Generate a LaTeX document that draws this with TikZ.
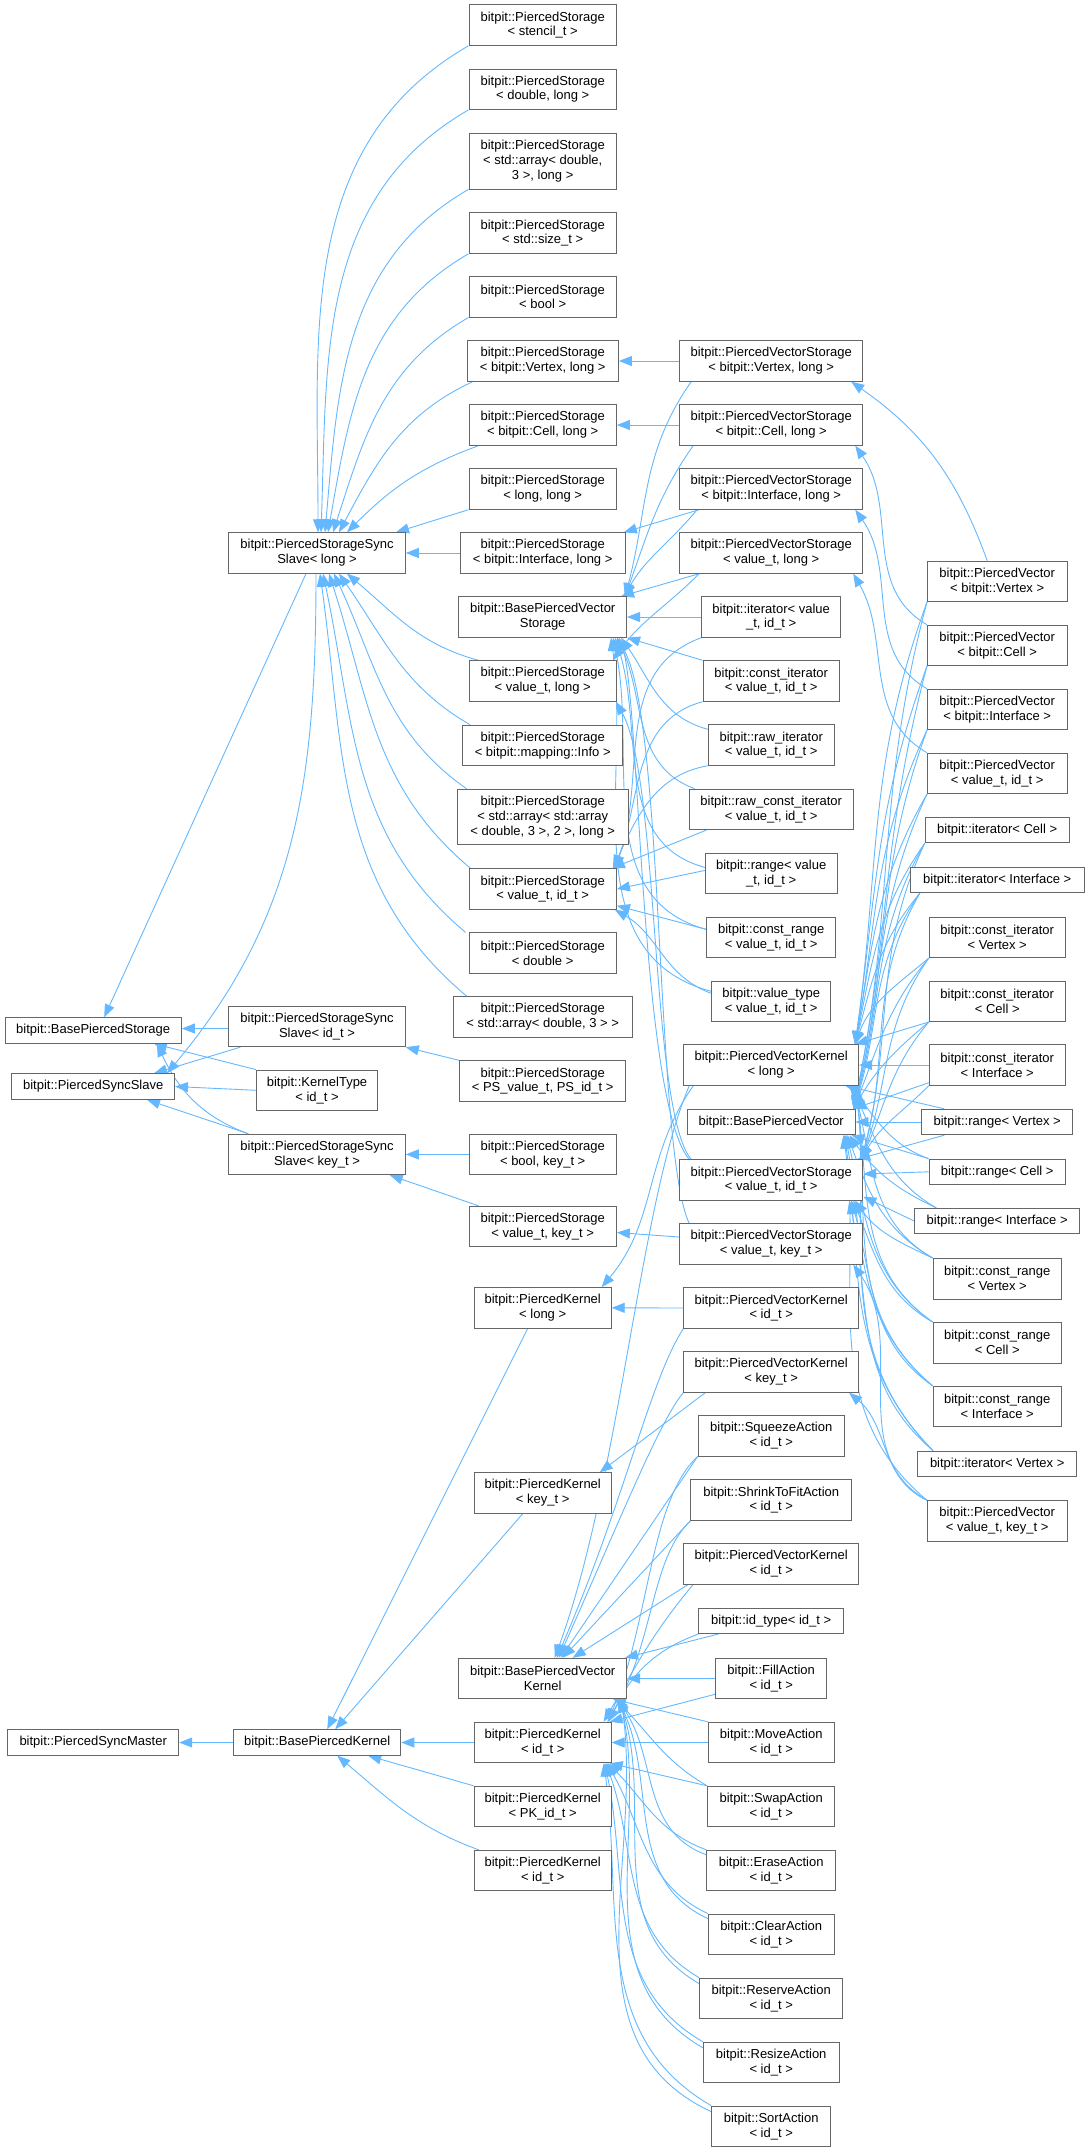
\documentclass[tikz,border=0pt]{standalone}
\usepackage{fontspec}
\setmainfont{Liberation Sans}
\usetikzlibrary{arrows.meta,backgrounds}
\definecolor{edgeblue}{HTML}{63B8FF}
\definecolor{boxgray}{HTML}{666666}
\begin{document}
\begin{tikzpicture}[x=1pt,y=1pt,
    cls/.style={draw=boxgray, fill=white, line width=0.9pt, inner sep=0pt,
      align=center, minimum height=40.5, font=\fontsize{13}{14.8}\selectfont},
    one/.style={cls, minimum height=25.5},
    three/.style={cls, minimum height=55.5},
    w/.style={minimum width=#1},
    inh/.style={color=edgeblue, line width=0.9pt, {Triangle[length=13pt,width=10pt]}-}]
  \useasboundingbox (0,0) rectangle (1089,-2152);
  \draw
    (93.2,-1030.5) node[one,w=176.5] (bps){bitpit::BasePiercedStorage}
    (93.2,-1086.5) node[one,w=162.7] (psl){bitpit::PiercedSyncSlave}
    (93.2,-1742.5) node[one,w=171.1] (psm){bitpit::PiercedSyncMaster}
    (317,-553) node[cls,w=176.6] (ssl){bitpit::PiercedStorageSync\\Slave< long >}
    (317,-1026.5) node[cls,w=176.6] (ssi){bitpit::PiercedStorageSync\\Slave< id\_t >}
    (317,-1090.3) node[cls,w=121.3] (kt){bitpit::KernelType\\< id\_t >}
    (317,-1154.4) node[cls,w=176.6] (ssk){bitpit::PiercedStorageSync\\Slave< key\_t >}
    (317.2,-1742.5) node[one,w=167.2] (bpk){bitpit::BasePiercedKernel}
    (542.7,-25.1) node[cls,w=147.5] (ps1){bitpit::PiercedStorage\\< stencil\_t >}
    (542.7,-89.2) node[cls,w=147.5] (ps2){bitpit::PiercedStorage\\< double, long >}
    (542.7,-161.2) node[three,w=147.5] (ps3){bitpit::PiercedStorage\\< std::array< double,\\3 >, long >}
    (542.7,-233.1) node[cls,w=147.5] (ps4){bitpit::PiercedStorage\\< std::size\_t >}
    (542.7,-296.8) node[cls,w=147.5] (ps5){bitpit::PiercedStorage\\< bool >}
    (542.7,-361) node[cls,w=151.4] (psv){bitpit::PiercedStorage\\< bitpit::Vertex, long >}
    (542.7,-425) node[cls,w=147.5] (psc){bitpit::PiercedStorage\\< bitpit::Cell, long >}
    (542.7,-489) node[cls,w=147.5] (psll){bitpit::PiercedStorage\\< long, long >}
    (542.7,-553) node[cls,w=165.3] (psi){bitpit::PiercedStorage\\< bitpit::Interface, long >}
    (542.7,-617) node[cls,w=167.7] (bpvs){bitpit::BasePiercedVector\\Storage}
    (542.7,-681) node[cls,w=147.5] (psvl){bitpit::PiercedStorage\\< value\_t, long >}
    (542.7,-745.4) node[cls,w=160.4] (psmi){bitpit::PiercedStorage\\< bitpit::mapping::Info >}
    (542.7,-817) node[three,w=171.2] (psaa){bitpit::PiercedStorage\\< std::array< std::array\\< double, 3 >, 2 >, long >}
    (542.7,-889) node[cls,w=147.5] (psvi){bitpit::PiercedStorage\\< value\_t, id\_t >}
    (542.7,-953) node[cls,w=147.5] (psd){bitpit::PiercedStorage\\< double >}
    (542.7,-1017) node[cls,w=178.8] (psa3){bitpit::PiercedStorage\\< std::array< double, 3 > >}
    (542.7,-1081) node[cls,w=166.3] (pspp){bitpit::PiercedStorage\\< PS\_value\_t, PS\_id\_t >}
    (542.7,-1154.4) node[cls,w=147.5] (psbk){bitpit::PiercedStorage\\< bool, key\_t >}
    (542.7,-1226.5) node[cls,w=147.5] (psvk){bitpit::PiercedStorage\\< value\_t, key\_t >}
    (542.7,-1307.8) node[cls,w=137.1] (pkl){bitpit::PiercedKernel\\< long >}
    (542.7,-1493) node[cls,w=137.1] (pkk){bitpit::PiercedKernel\\< key\_t >}
    (542.7,-1678.5) node[cls,w=167.7] (bpvk){bitpit::BasePiercedVector\\Kernel}
    (542.7,-1742.5) node[cls,w=137.1] (pki){bitpit::PiercedKernel\\< id\_t >}
    (542.7,-1806.5) node[cls,w=137.1] (pkp){bitpit::PiercedKernel\\< PK\_id\_t >}
    (542.7,-1870.5) node[cls,w=137.1] (pki2){bitpit::PiercedKernel\\< id\_t >}
    (771.2,-361) node[cls,w=183.2] (pvsv){bitpit::PiercedVectorStorage\\< bitpit::Vertex, long >}
    (771.2,-425) node[cls,w=183.2] (pvsc){bitpit::PiercedVectorStorage\\< bitpit::Cell, long >}
    (771.2,-489) node[cls,w=183.2] (pvsi){bitpit::PiercedVectorStorage\\< bitpit::Interface, long >}
    (771.2,-553) node[cls,w=183.2] (pvsvl){bitpit::PiercedVectorStorage\\< value\_t, long >}
    (771.2,-617) node[cls,w=138.8] (it){bitpit::iterator< value\\\_t, id\_t >}
    (771.2,-681) node[cls,w=136.2] (cit){bitpit::const\_iterator\\< value\_t, id\_t >}
    (771.2,-745) node[cls,w=125.8] (rit){bitpit::raw\_iterator\\< value\_t, id\_t >}
    (771.2,-809.3) node[cls,w=164.4] (rcit){bitpit::raw\_const\_iterator\\< value\_t, id\_t >}
    (771.2,-873.4) node[cls,w=131.7] (rg){bitpit::range< value\\\_t, id\_t >}
    (771.2,-937.4) node[cls,w=128.7] (crg){bitpit::const\_range\\< value\_t, id\_t >}
    (771.2,-1001.3) node[cls,w=119.2] (vt){bitpit::value\_type\\< value\_t, id\_t >}
    (771.2,-1065) node[cls,w=174.9] (pvkl){bitpit::PiercedVectorKernel\\< long >}
    (771.2,-1122) node[one,w=167.6] (bpv){bitpit::BasePiercedVector}
    (771.2,-1180) node[cls,w=183.2] (pvsvi){bitpit::PiercedVectorStorage\\< value\_t, id\_t >}
    (771.2,-1244) node[cls,w=183.2] (pvsvk){bitpit::PiercedVectorStorage\\< value\_t, key\_t >}
    (771.2,-1308) node[cls,w=174.9] (pvki){bitpit::PiercedVectorKernel\\< id\_t >}
    (771.2,-1372) node[cls,w=174.9] (pvkk){bitpit::PiercedVectorKernel\\< key\_t >}
    (771.2,-1435.7) node[cls,w=146] (sq){bitpit::SqueezeAction\\< id\_t >}
    (771.2,-1500) node[cls,w=160.7] (sh){bitpit::ShrinkToFitAction\\< id\_t >}
    (771.2,-1563.7) node[cls,w=174.9] (pvki2){bitpit::PiercedVectorKernel\\< id\_t >}
    (771.2,-1620.8) node[one,w=144.7] (idt){bitpit::id\_type< id\_t >}
    (771.2,-1678.5) node[cls,w=111] (fill){bitpit::FillAction\\< id\_t >}
    (771.2,-1742.5) node[cls,w=125.8] (move){bitpit::MoveAction\\< id\_t >}
    (771.2,-1806.5) node[cls,w=127.2] (swap){bitpit::SwapAction\\< id\_t >}
    (771.2,-1870.5) node[cls,w=128.7] (erase){bitpit::EraseAction\\< id\_t >}
    (771.2,-1934.3) node[cls,w=125.8] (clear){bitpit::ClearAction\\< id\_t >}
    (771.2,-1998.3) node[cls,w=143.2] (reserve){bitpit::ReserveAction\\< id\_t >}
    (771.2,-2062.5) node[cls,w=135.6] (resize){bitpit::ResizeAction\\< id\_t >}
    (771.2,-2126.3) node[cls,w=119.2] (sort){bitpit::SortAction\\< id\_t >}
    (997.2,-581.3) node[cls,w=139.5] (pvv){bitpit::PiercedVector\\< bitpit::Vertex >}
    (997.2,-645.4) node[cls,w=139.5] (pvc){bitpit::PiercedVector\\< bitpit::Cell >}
    (997.2,-709.4) node[cls,w=139.5] (pvi){bitpit::PiercedVector\\< bitpit::Interface >}
    (997.2,-773.4) node[cls,w=139.5] (pvvi){bitpit::PiercedVector\\< value\_t, id\_t >}
    (997.2,-830) node[one,w=144] (itc){bitpit::iterator< Cell >}
    (997.2,-880) node[one,w=173.8] (iti){bitpit::iterator< Interface >}
    (997.2,-937.4) node[cls,w=136] (citv){bitpit::const\_iterator\\< Vertex >}
    (997.2,-1001.3) node[cls,w=136] (citc){bitpit::const\_iterator\\< Cell >}
    (997.2,-1065) node[cls,w=136] (citi){bitpit::const\_iterator\\< Interface >}
    (997.2,-1122) node[one,w=151] (rgv){bitpit::range< Vertex >}
    (997.2,-1171.8) node[one,w=136.4] (rgc){bitpit::range< Cell >}
    (997.2,-1221) node[one,w=165.1] (rgi){bitpit::range< Interface >}
    (997.2,-1278.7) node[cls,w=128.3] (crgv){bitpit::const\_range\\< Vertex >}
    (997.2,-1342.7) node[cls,w=128.3] (crgc){bitpit::const\_range\\< Cell >}
    (997.2,-1406.5) node[cls,w=128.3] (crgi){bitpit::const\_range\\< Interface >}
    (997.2,-1463.8) node[one,w=159.3] (itv){bitpit::iterator< Vertex >}
    (997.2,-1521) node[cls,w=139.5] (pvvk){bitpit::PiercedVector\\< value\_t, key\_t >};
  \begin{scope}[on background layer]
  \begin{scope}[inh]
    \draw ([xshift=1]ssl.north) to[out=90,in=210] (ps1.south west);
    \draw ([xshift=4]ssl.north) to[out=88,in=210] (ps2.south west);
    \draw ([xshift=8]ssl.north) to[out=85,in=210] (ps3.south west);
    \draw ([xshift=11]ssl.north) to[out=80,in=210] (ps4.south west);
    \draw ([xshift=16]ssl.north) to[out=72,in=210] (ps5.south west);
    \draw ([xshift=22]ssl.north) to[out=62,in=205] ([xshift=6]psv.south west);
    \draw ([xshift=30]ssl.north) to[out=45,in=200] ([xshift=10]psc.south west);
    \draw ([xshift=79]ssl.north) -- (psll.south west);
    \draw (ssl.east) -- (psi.west);
    \draw ([xshift=30]ssl.south) to[out=-40,in=165] ([xshift=10]psvl.north west);
    \draw ([xshift=22]ssl.south) to[out=-55,in=150] ([xshift=8]psmi.north west);
    \draw ([xshift=17]ssl.south) to[out=-65,in=145] ([xshift=10]psaa.north west);
    \draw ([xshift=12]ssl.south) to[out=-72,in=140] ([xshift=2]psvi.north west);
    \draw ([xshift=6]ssl.south) to[out=-78,in=140] ([xshift=-3]psd.north west);
    \draw ([xshift=3]ssl.south) to[out=-82,in=140] ([xshift=14]psa3.north west);
    \draw ([xshift=11]bps.north) -- ([xshift=-11]ssl.south);
    \draw ([xshift=-8]psl.north east) to[out=50,in=-90] ([xshift=-1]ssl.south);
    \draw ([yshift=2]bps.east) -- ([yshift=-2]ssi.west);
    \draw ([xshift=-28]bps.south east) -- (kt.north west);
    \draw ([xshift=-25]bps.south east) to[out=-65,in=160] ([xshift=20]ssk.north west);
    \draw ([xshift=-21]psl.north east) -- ([xshift=12]ssi.south west);
    \draw (psl.east) -- (kt.west);
    \draw ([xshift=-28]psl.south east) -- ([xshift=20]ssk.north west);
    \draw (ssi.south east) -- (pspp.north west);
    \draw (ssk.east) -- (psbk.west);
    \draw ([xshift=-16]ssk.south east) -- ([xshift=10]psvk.north west);
    \draw (psv.east) -- (pvsv.west);
    \draw (psc.east) -- (pvsc.west);
    \draw ([xshift=-2]psi.north east) -- ([xshift=20]pvsi.south west);
    \draw ([xshift=-4]psvl.north east) to[out=55,in=225] ([xshift=20]pvsvl.south west);
    \draw ([yshift=-6]psvk.east) -- ([yshift=7]pvsvk.west);
    \draw ([xshift=-2]bpvs.north east) to[out=75,in=235] ([xshift=12]pvsv.south west);
    \draw ([xshift=-2]bpvs.north east) to[out=70,in=235] ([xshift=14]pvsc.south west);
    \draw ([xshift=-3]bpvs.north east) to[out=60,in=230] ([xshift=18]pvsi.south west);
    \draw ([xshift=-6]bpvs.north east) -- ([xshift=20]pvsvl.south west);
    \draw (bpvs.east) -- (it.west);
    \draw (bpvs.south east) -- (cit.north west);
    \draw ([xshift=-6]bpvs.south east) to[out=-55,in=165] ([yshift=-5]rit.north west);
    \draw ([xshift=-10]bpvs.south east) to[out=-65,in=160] ([xshift=6]rcit.north west);
    \draw ([xshift=-12]bpvs.south east) to[out=-72,in=165] ([yshift=6]rg.west);
    \draw ([xshift=-14]bpvs.south east) to[out=-78,in=165] ([yshift=8]crg.west);
    \draw ([xshift=-16]bpvs.south east) to[out=-82,in=165] ([yshift=10]vt.west);
    \draw ([xshift=-2]psvi.north east) to[out=70,in=200] (it.south west);
    \draw ([xshift=-3]psvi.north east) to[out=68,in=195] (cit.south west);
    \draw ([xshift=-4]psvi.north east) to[out=65,in=190] (rit.south west);
    \draw ([xshift=-5]psvi.north east) -- ([xshift=18]rcit.south west);
    \draw (psvi.east) -- ([yshift=3]rg.west);
    \draw ([yshift=4]psvi.south east) -- ([yshift=8]crg.west);
    \draw ([xshift=-2]psvi.south east) to[out=-30,in=160] ([yshift=8]vt.west);
    \draw ([xshift=-8]bpvs.south east) .. controls (640,-700) and (640,-1100) .. ([xshift=10]pvsvi.north west);
    \draw ([xshift=-10]bpvs.south east) .. controls (665,-720) and (655,-1150) .. ([xshift=10]pvsvk.north west);
    \draw ([xshift=-1]psvl.south east) .. controls (660,-780) and (650,-1110) .. ([xshift=12]pvsvi.north west);
    \draw ([xshift=-12]pvsv.south east) to[out=-35,in=110] ([xshift=-10]pvv.north);
    \draw ([xshift=-8]pvsc.south east) to[out=-55,in=150] (pvc.north west);
    \draw ([xshift=-8]pvsi.south east) to[out=-55,in=150] (pvi.north west);
    \draw ([xshift=-10]pvsvl.south east) to[out=-60,in=150] (pvvi.north west);
    \draw ([xshift=-4]pvkl.north east) to[out=82,in=250] (pvv.south west);
    \draw ([xshift=-4]pvkl.north east) to[out=82,in=250] (pvc.south west);
    \draw ([xshift=-4]pvkl.north east) to[out=80,in=245] (pvi.south west);
    \draw ([xshift=-4]pvkl.north east) to[out=80,in=240] (pvvi.south west);
    \draw ([xshift=-4]pvkl.north east) to[out=78,in=235] (itc.south west);
    \draw ([xshift=-4]pvkl.north east) to[out=75,in=230] ([xshift=10]iti.south west);
    \draw ([xshift=-4]pvkl.north east) to[out=70,in=220] (citv.south west);
    \draw ([xshift=-4]pvkl.north east) -- (citc.south west);
    \draw ([xshift=-2]bpv.north east) to[out=78,in=255] (pvv.south west);
    \draw ([xshift=-2]bpv.north east) to[out=78,in=255] (pvc.south west);
    \draw ([xshift=-2]bpv.north east) to[out=76,in=250] (pvi.south west);
    \draw ([xshift=-2]bpv.north east) to[out=76,in=245] (pvvi.south west);
    \draw ([xshift=-2]bpv.north east) to[out=74,in=240] (itc.south west);
    \draw ([xshift=-2]bpv.north east) to[out=72,in=235] ([xshift=10]iti.south west);
    \draw ([xshift=-2]bpv.north east) to[out=68,in=230] (citv.south west);
    \draw ([xshift=-2]bpv.north east) to[out=60,in=220] (citc.south west);
    \draw ([xshift=-2]bpv.north east) -- ([yshift=3]citi.south west);
    \draw ([xshift=-2]pvsvi.north east) to[out=75,in=245] (itc.south west);
    \draw ([xshift=-2]pvsvi.north east) to[out=74,in=240] ([xshift=10]iti.south west);
    \draw ([xshift=-2]pvsvi.north east) to[out=70,in=235] (citv.south west);
    \draw ([xshift=-2]pvsvi.north east) to[out=66,in=230] (citc.south west);
    \draw ([xshift=-2]pvsvi.north east) to[out=60,in=225] (citi.south west);
    \draw (pvkl.east) -- (citi.west);
    \draw ([xshift=-14]pvkl.south east) -- ([xshift=23]rgv.north west);
    \draw (bpv.east) -- (rgv.west);
    \draw ([xshift=-6]pvsvi.north east) -- ([xshift=23]rgv.south west);
    \draw ([xshift=-10]pvkl.south east) to[out=-50,in=160] (rgc.north west);
    \draw ([xshift=-4]bpv.south east) -- (rgc.north west);
    \draw ([yshift=6]pvsvi.east) -- (rgc.west);
    \draw ([xshift=-8]pvkl.south east) to[out=-65,in=150] ([xshift=22]rgi.north west);
    \draw ([xshift=-6]bpv.south east) to[out=-55,in=155] ([xshift=22]rgi.north west);
    \draw ([yshift=4]pvsvi.south east) -- (rgi.west);
    \draw ([xshift=-6]pvkl.south east) to[out=-75,in=150] (crgv.north west);
    \draw ([xshift=-8]bpv.south east) to[out=-70,in=150] (crgv.north west);
    \draw ([xshift=-8]pvsvi.south east) to[out=-55,in=155] (crgv.north west);
    \draw ([xshift=-5]pvkl.south east) to[out=-80,in=145] (crgc.north west);
    \draw ([xshift=-9]bpv.south east) to[out=-76,in=145] (crgc.north west);
    \draw ([xshift=-10]pvsvi.south east) to[out=-68,in=150] (crgc.north west);
    \draw ([xshift=-4]pvkl.south east) to[out=-82,in=140] (crgi.north west);
    \draw ([xshift=-10]bpv.south east) to[out=-80,in=140] (crgi.north west);
    \draw ([xshift=-12]pvsvi.south east) to[out=-74,in=145] (crgi.north west);
    \draw ([xshift=-3]pvkl.south east) to[out=-84,in=135] ([xshift=16]itv.north west);
    \draw ([xshift=-11]bpv.south east) to[out=-82,in=135] ([xshift=16]itv.north west);
    \draw ([xshift=-14]pvsvi.south east) to[out=-78,in=140] ([xshift=16]itv.north west);
    \draw ([xshift=-10]pvkk.south east) to[out=-40,in=155] (pvvk.north west);
    \draw ([xshift=-10]pvsvk.south east) to[out=-55,in=150] (pvvk.north west);
    \draw ([xshift=-12]bpv.south east) to[out=-82,in=140] (pvvk.north west);
    \draw ([xshift=-10]pkl.north east) to[out=50,in=235] ([xshift=10]pvkl.south west);
    \draw (pkl.east) -- (pvki.west);
    \draw ([xshift=-12]pkk.north east) -- ([xshift=22]pvkk.south west);
    \draw ([xshift=-8]pki.north east) to[out=60,in=230] ([xshift=10]pvki2.south west);
    \draw ([xshift=12]bpvk.north) .. controls (620,-1480) and (640,-1200) .. ([xshift=6]pvkl.south west);
    \draw ([xshift=14]bpvk.north) .. controls (625,-1500) and (650,-1380) .. (pvki.south west);
    \draw ([xshift=16]bpvk.north) .. controls (620,-1520) and (660,-1420) .. (pvkk.south west);
    \draw ([xshift=18]bpvk.north) -- (sq.south west);
    \draw ([xshift=20]bpvk.north) -- (sh.south west);
    \draw ([xshift=30]bpvk.north) -- ([xshift=5]pvki2.south west);
    \draw ([xshift=-2]bpvk.north east) -- ([xshift=20]idt.south west);
    \draw (bpvk.east) -- (fill.west);
    \draw ([xshift=-14]bpvk.south east) -- (move.north west);
    \draw ([xshift=-12]bpvk.south east) to[out=-45,in=150] (swap.north west);
    \draw ([xshift=-10]bpvk.south east) to[out=-55,in=160] ([yshift=-5]erase.north west);
    \draw ([xshift=-9]bpvk.south east) to[out=-65,in=155] ([yshift=-5]clear.north west);
    \draw ([xshift=-8]bpvk.south east) to[out=-72,in=150] ([yshift=-6]reserve.north west);
    \draw ([xshift=-7]bpvk.south east) to[out=-78,in=150] ([yshift=-6]resize.north west);
    \draw ([xshift=-6]bpvk.south east) to[out=-82,in=155] ([yshift=-6]sort.north west);
    \draw ([xshift=-4]pki.north east) .. controls (650,-1620) and (650,-1500) .. (sq.south west);
    \draw ([xshift=-4]pki.north east) .. controls (655,-1640) and (650,-1560) .. (sh.south west);
    \draw ([xshift=-3]pki.north east) to[out=65,in=200] (idt.south west);
    \draw ([xshift=-2]pki.north east) -- ([yshift=5]fill.south west);
    \draw (pki.east) -- (move.west);
    \draw ([xshift=-2]pki.south east) -- (swap.north west);
    \draw ([xshift=-4]pki.south east) to[out=-45,in=160] (erase.north west);
    \draw ([xshift=-5]pki.south east) to[out=-60,in=155] (clear.north west);
    \draw ([xshift=-6]pki.south east) to[out=-70,in=150] (reserve.north west);
    \draw ([xshift=-7]pki.south east) to[out=-78,in=150] (resize.north west);
    \draw ([xshift=-8]pki.south east) to[out=-82,in=150] (sort.north west);
    \draw (psm.east) -- (bpk.west);
    \draw ([xshift=10]bpk.north) -- ([xshift=-15]pkl.south);
    \draw ([xshift=18]bpk.north) -- ([xshift=-20]pkk.south);
    \draw (bpk.east) -- (pki.west);
    \draw ([xshift=51]bpk.south) -- (pkp.north west);
    \draw ([xshift=20]bpk.south) to[out=-40,in=160] ([xshift=5]pki2.north west);
  \end{scope}
  \end{scope}
\end{tikzpicture}
\end{document}
